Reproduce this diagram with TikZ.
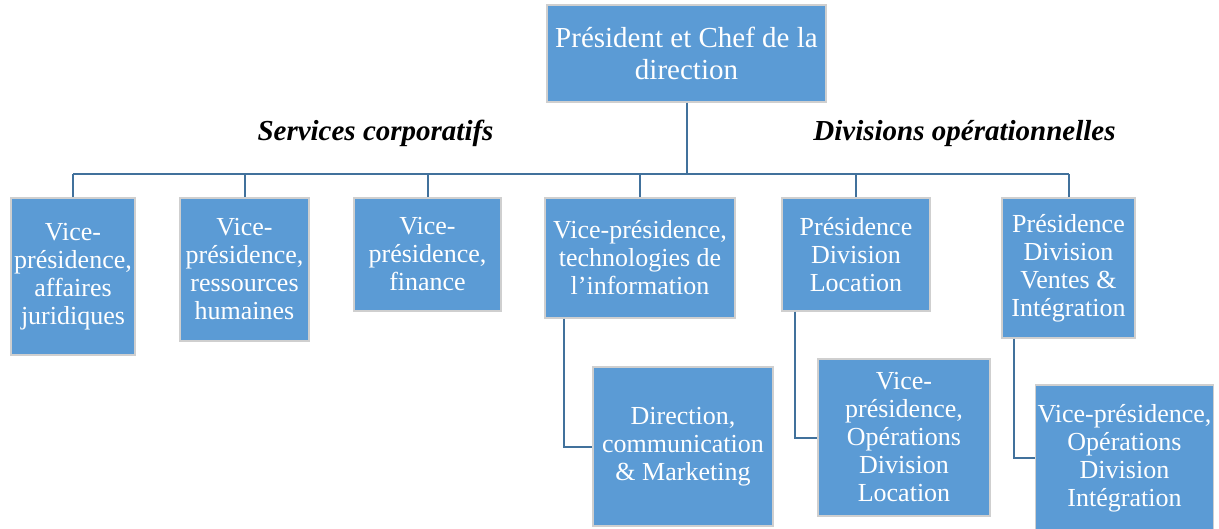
\documentclass[tikz,border=0pt]{standalone}
\usepackage{fontspec}
\setmainfont{Liberation Serif}
\usetikzlibrary{calc}
\definecolor{boxblue}{HTML}{5B9BD5}
\definecolor{boxrim}{HTML}{CFCFCF}
\definecolor{linkblue}{HTML}{41719C}
\begin{document}
\begin{tikzpicture}[x=1pt,y=-1pt,
  orgbox/.style={draw=boxrim, line width=1.5pt, fill=boxblue, text=white,
    align=center, inner sep=2pt, font=\fontsize{26}{28}\selectfont},
  conn/.style={draw=linkblue, line width=2pt},
  grouplabel/.style={anchor=base, font=\fontsize{29}{32}\selectfont\bfseries\itshape}]
\useasboundingbox (0,0) rectangle (1219,529);

% top of the chart
\node[orgbox, minimum width=279pt, minimum height=97pt,
  font=\fontsize{29}{32}\selectfont] (pdg) at (686.5,53.5)
  {Président et Chef de la\\direction};

% group headings
\node[grouplabel] (svc) at (375.5,141) {Services corporatifs};
\node[grouplabel] (div) at (964.5,141) {Divisions opérationnelles};

% second level
\node[orgbox, minimum width=124pt, minimum height=157pt] (vpj) at (73,276.5)
  {Vice-\\présidence,\\affaires\\juridiques};
\node[orgbox, minimum width=129pt, minimum height=143pt] (vprh) at (244.5,269.5)
  {Vice-\\présidence,\\ressources\\humaines};
\node[orgbox, minimum width=147pt, minimum height=113pt] (vpf) at (427.5,254.5)
  {Vice-\\présidence,\\finance};
\node[orgbox, minimum width=190pt, minimum height=120pt] (vpti) at (640,258)
  {Vice-présidence,\\technologies de\\l’information};
\node[orgbox, minimum width=148pt, minimum height=113pt] (pdl) at (856,254.5)
  {Présidence\\Division\\Location};
\node[orgbox, minimum width=133pt, minimum height=140pt] (pdv) at (1068.5,268)
  {Présidence\\Division\\Ventes \&\\Intégration};

% third level
\node[orgbox, minimum width=180pt, minimum height=159pt] (dcm) at (683,446.5)
  {Direction,\\communication\\\& Marketing};
\node[orgbox, minimum width=172pt, minimum height=157pt] (vpol) at (904,437.5)
  {Vice-\\présidence,\\Opérations\\Division\\Location};
\node[orgbox, minimum width=177pt, minimum height=146pt] (vpoi) at (1124.5,458)
  {Vice-présidence,\\Opérations\\Division\\Intégration};

% connectors
\coordinate (bus) at (0,174);
\draw[conn] (pdg.south) -- (pdg.south |- bus);
\draw[conn] (vpj.north |- bus) -- (pdv.north |- bus);
\foreach \n in {vpj,vprh,vpf,vpti,pdl,pdv}
  \draw[conn] (\n.north) -- (\n.north |- bus);
\draw[conn] ($(vpti.south west)+(20,0)$) |- (dcm.west);
\draw[conn] ($(pdl.south west)+(14,0)$) |- (vpol.west);
\draw[conn] ($(pdv.south west)+(13,0)$) |- (vpoi.west);
\end{tikzpicture}
\end{document}
